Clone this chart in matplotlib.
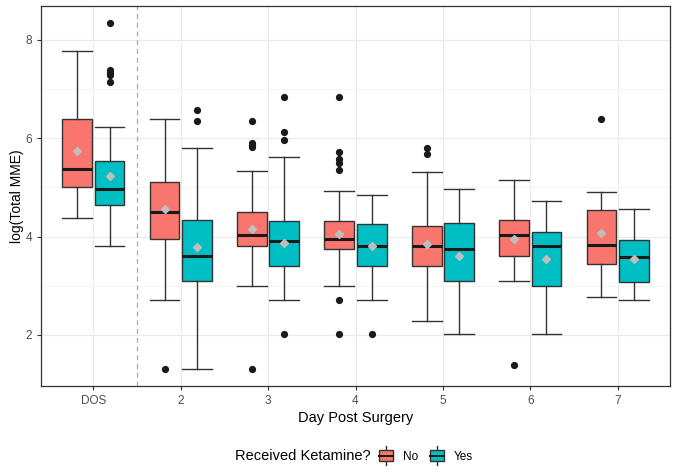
import matplotlib
matplotlib.use("Agg")
import matplotlib.pyplot as plt
from matplotlib.legend_handler import HandlerBase
from matplotlib.patches import Rectangle
from matplotlib.lines import Line2D

plt.rcParams['font.family'] = ['Liberation Sans', 'DejaVu Sans']

days = ["DOS", "2", "3", "4", "5", "6", "7"]
groups = ["No", "Yes"]
colors = {"No": "#F8766D", "Yes": "#00BFC4"}

# per group: whisker low, Q1, median, Q3, whisker high, mean
no_wlo = [4.38, 2.71, 3.00, 3.00, 2.29, 3.10, 2.77]
no_q1 = [5.00, 3.95, 3.80, 3.74, 3.40, 3.61, 3.45]
no_med = [5.38, 4.49, 4.03, 3.96, 3.80, 4.03, 3.82]
no_q3 = [6.39, 5.11, 4.49, 4.31, 4.21, 4.34, 4.54]
no_whi = [7.78, 6.39, 5.34, 4.92, 5.31, 5.15, 4.90]
no_mean = [5.74, 4.57, 4.16, 4.05, 3.85, 3.95, 4.08]
no_out = [[], [1.31], [6.36, 5.91, 5.86, 5.83, 1.31],
          [6.83, 5.73, 5.58, 5.49, 5.35, 2.71, 2.01],
          [5.81, 5.68], [1.38], [6.39]]

yes_wlo = [3.80, 1.31, 2.71, 2.71, 2.01, 2.01, 2.71]
yes_q1 = [4.65, 3.10, 3.40, 3.40, 3.10, 3.00, 3.08]
yes_med = [4.96, 3.61, 3.90, 3.80, 3.74, 3.80, 3.59]
yes_q3 = [5.53, 4.34, 4.31, 4.26, 4.28, 4.10, 3.93]
yes_whi = [6.23, 5.80, 5.62, 4.85, 4.96, 4.73, 4.56]
yes_mean = [5.24, 3.78, 3.86, 3.81, 3.61, 3.54, 3.54]
yes_out = [[8.35, 7.38, 7.33, 7.28, 7.15], [6.57, 6.35], [6.84, 6.12, 5.96, 2.01],
           [2.01], [], [], []]

data = {
    "No": (no_wlo, no_q1, no_med, no_q3, no_whi, no_mean, no_out),
    "Yes": (yes_wlo, yes_q1, yes_med, yes_q3, yes_whi, yes_mean, yes_out),
}

W, H = 677, 472
fig = plt.figure(figsize=(W / 100, H / 100), dpi=100)
ax = fig.add_axes([41 / W, 1 - 386 / H, (670 - 41) / W, (386 - 6) / H])

offsets = {"No": -0.185, "Yes": 0.185}
bw = 0.34
edge = "#333333"
for g in groups:
    wlo, q1, med, q3, whi, mean, out = data[g]
    stats = []
    for i in range(len(days)):
        stats.append(dict(whislo=wlo[i], q1=q1[i], med=med[i], q3=q3[i],
                          whishi=whi[i], mean=mean[i], fliers=out[i]))
    pos = [i + 1 + offsets[g] for i in range(len(days))]
    ax.bxp(stats, positions=pos, widths=bw, patch_artist=True, showmeans=True,
           capwidths=bw, manage_ticks=False,
           boxprops=dict(facecolor=colors[g], edgecolor=edge, linewidth=1.0),
           medianprops=dict(color="#1a1a1a", linewidth=2.2),
           whiskerprops=dict(color=edge, linewidth=1.0),
           capprops=dict(color=edge, linewidth=1.0),
           meanprops=dict(marker="D", markerfacecolor="#BEBEBE",
                          markeredgecolor="#BEBEBE", markersize=4.5),
           flierprops=dict(marker="o", markerfacecolor="#1a1a1a",
                           markeredgecolor="#1a1a1a", markersize=4.2),
           zorder=3)

ax.axvline(1.5, color="#AAAAAA", linestyle=(0, (4, 3)), linewidth=0.9, zorder=2)

ax.set_xlim(0.4, 7.6)
ax.set_ylim(0.96, 8.69)
ax.set_xticks(range(1, len(days) + 1))
ax.set_xticklabels(days)
ax.set_yticks([2, 4, 6, 8])
ax.set_yticks([3, 5, 7], minor=True)
ax.grid(True, which="major", color="#EBEBEB", linewidth=0.9, zorder=0)
ax.grid(True, which="minor", axis="y", color="#F3F3F3", linewidth=0.6, zorder=0)
ax.set_axisbelow(True)
for s in ax.spines.values():
    s.set_color("#333333")
    s.set_linewidth(0.9)
ax.tick_params(axis="both", which="major", colors="#333333", labelcolor="#4D4D4D",
               labelsize=8.5, length=3, width=0.8)
ax.tick_params(axis="y", which="minor", length=0)
ax.set_xlabel("Day Post Surgery", fontsize=10.5, color="black", labelpad=3)
ax.set_ylabel("log(Total MME)", fontsize=10, color="black", va="center")
ax.yaxis.set_label_coords(-(41 - 17) / (670 - 41), 0.5)


class BoxHandler(HandlerBase):
    def create_artists(self, legend, orig_handle, xdescent, ydescent, width,
                       height, fontsize, trans):
        c = orig_handle.get_facecolor()
        x0 = -xdescent
        y0 = -ydescent
        bx = x0
        bwid = width
        rect = Rectangle((bx, y0 + height * 0.05), bwid, height * 0.9,
                         facecolor=c, edgecolor=edge, linewidth=1.0, transform=trans)
        med = Line2D([bx, bx + bwid], [y0 + height * 0.5] * 2, color="#1a1a1a",
                     linewidth=1.4, transform=trans)
        w1 = Line2D([x0 + width / 2] * 2, [y0 - height * 0.3, y0 + height * 0.05],
                    color=edge, linewidth=1.0, transform=trans)
        w2 = Line2D([x0 + width / 2] * 2, [y0 + height * 0.95, y0 + height * 1.3],
                    color=edge, linewidth=1.0, transform=trans)
        return [w1, w2, rect, med]


handles = [Rectangle((0, 0), 1, 1, facecolor=colors[g]) for g in groups]
fig.text(235 / W, 1 - 456 / H, "Received Ketamine?", fontsize=10.5, va="center",
         ha="left", color="black")
leg = fig.legend(handles, groups, loc="center left",
                 bbox_to_anchor=(379 / W, 1 - 456 / H), ncol=2, frameon=False,
                 handler_map={Rectangle: BoxHandler()}, fontsize=8.5,
                 handlelength=1.2, handleheight=1.2, handletextpad=0.8,
                 columnspacing=1.0, borderaxespad=0, borderpad=0)

fig.savefig("out.png", dpi=100)
